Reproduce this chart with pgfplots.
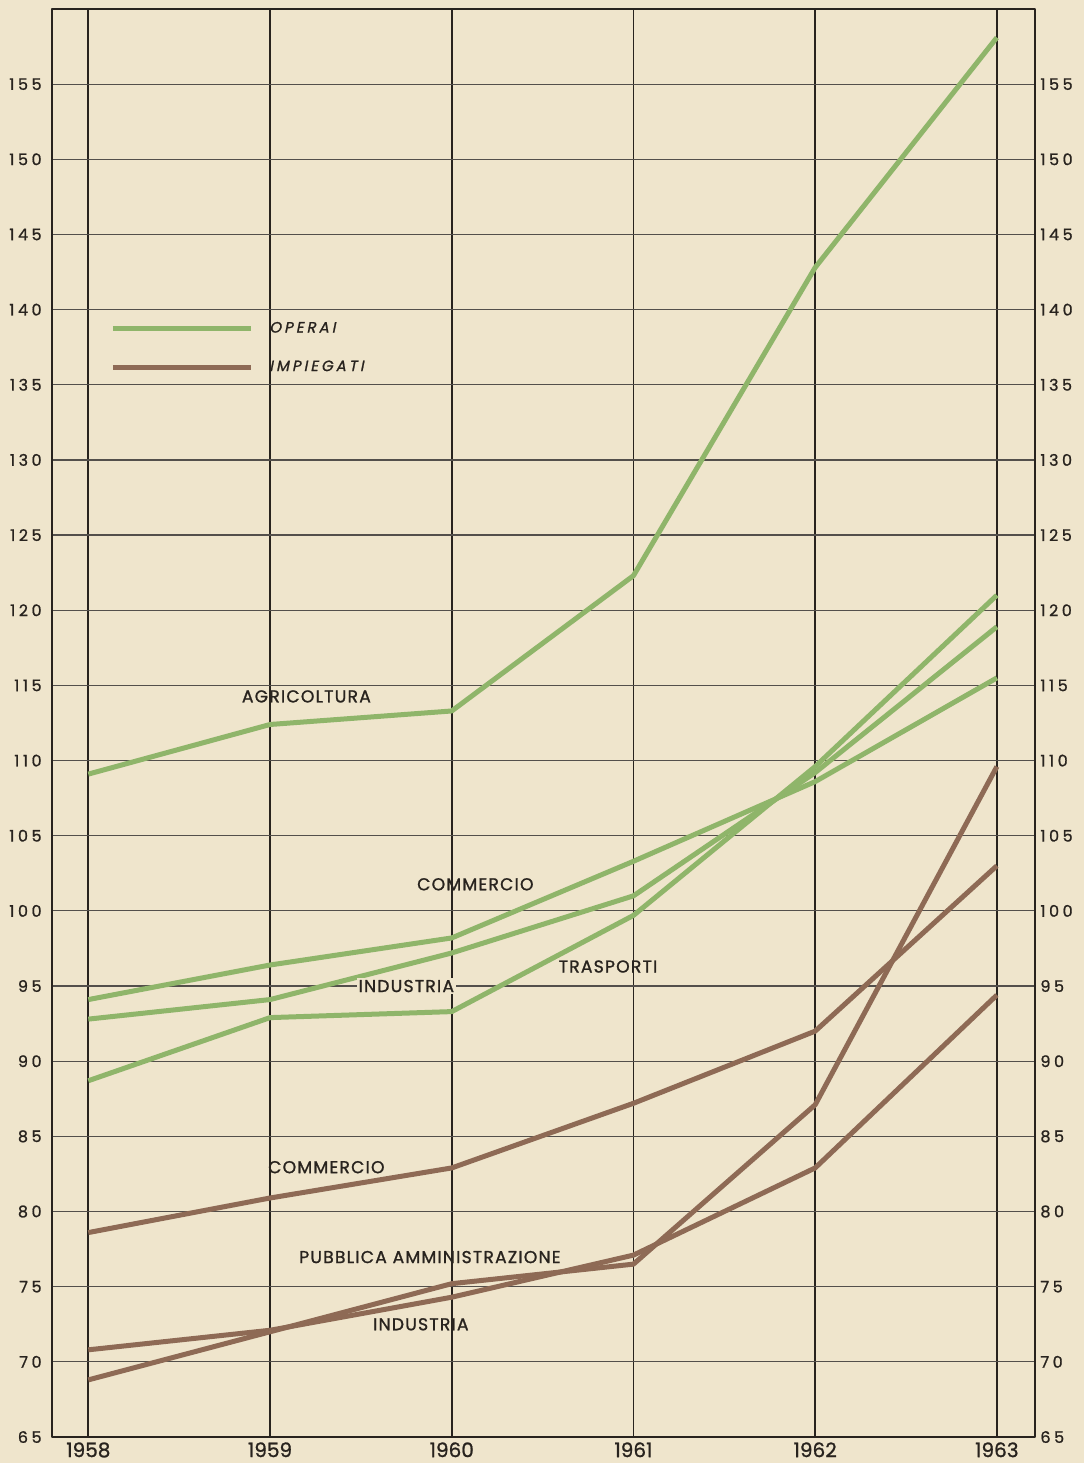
\documentclass[border=0pt]{standalone}
\usepackage{pgfplots}
\pgfplotsset{compat=1.18}
\usepackage{pgfplotstable}
\usepackage{fontspec}
\setmainfont{Poppins}[FakeBold=1]
\newfontfamily\labfont[LetterSpace=7,FakeBold=1.2]{Poppins}
\newfontfamily\tickfont[LetterSpace=22,FakeBold=1]{Poppins}
\newfontfamily\legfont[LetterSpace=20,FakeSlant=0.2,FakeBold=1.2]{Poppins}
\usetikzlibrary{backgrounds}
\definecolor{bgc}{RGB}{239,229,204}
\definecolor{verde}{RGB}{143,181,106}
\definecolor{marrone}{RGB}{142,106,85}
\definecolor{griglia}{RGB}{40,35,30}

\pgfplotstableread{
anno agr comm ind trasp
1958 109.1 94.1 92.8 88.7
1959 112.4 96.4 94.1 92.9
1960 113.3 98.2 97.2 93.3
1961 122.3 103.3 101.0 99.7
1962 142.8 108.6 109.2 109.6
1963 158.1 115.5 118.9 121.0
}\operai

\pgfplotstableread{
anno comm pa ind
1958 78.6 68.8 70.8
1959 80.9 72.0 72.1
1960 82.9 75.2 74.3
1961 87.2 76.5 77.1
1962 92.0 87.1 82.9
1963 103.0 109.6 94.4
}\impiegati

\begin{document}
\begin{tikzpicture}
\begin{axis}[
  scale only axis, width=491.5pt, height=714pt,
  xmin=1957.8, xmax=1963.21, ymin=65, ymax=160,
  xtick={1958,1959,1960,1961,1962,1963},
  ytick={65,70,...,155},
  /pgf/number format/assume math mode=true,
  /pgf/number format/1000 sep={},
  major tick length=0pt,
  grid=major,
  x grid style={line width=0.9pt, griglia},
  y grid style={line width=0.6pt, griglia!80},
  axis line style={line width=0.8pt, griglia},
  axis background/.style={fill=bgc},
  xticklabel style={font=\fontsize{10}{11}\selectfont, text=griglia, inner sep=0pt, anchor=north, yshift=-2.5pt},
  yticklabel style={font=\fontsize{8}{9}\tickfont, text=griglia, inner sep=0pt, anchor=east, xshift=-5pt},
  legend image code/.code={\draw[#1] (0pt,0pt) -- (69pt,0pt);},
  legend style={draw=none, fill=none, at={(rel axis cs:0.059,0.7825)}, anchor=north west,
    inner sep=0pt, font=\fontsize{7.5}{8}\legfont, text=griglia, row sep=10.5pt,
    nodes={inner sep=1pt}},
  legend cell align=left,
  /tikz/every odd column/.append style={column sep=7pt},
  line join=round,
]
\addlegendimage{verde, line width=2.5pt}
\addlegendentry{OPERAI}
\addlegendimage{marrone, line width=2.5pt}
\addlegendentry{IMPIEGATI}

\addplot[verde, line width=2.5pt, forget plot] table[x=anno, y=agr]{\operai};
\addplot[verde, line width=2.5pt, forget plot] table[x=anno, y=comm]{\operai};
\addplot[verde, line width=2.5pt, forget plot] table[x=anno, y=ind]{\operai};
\addplot[verde, line width=2.5pt, forget plot] table[x=anno, y=trasp]{\operai};
\addplot[marrone, line width=2.5pt, forget plot] table[x=anno, y=comm]{\impiegati};
\addplot[marrone, line width=2.5pt, forget plot] table[x=anno, y=pa]{\impiegati};
\addplot[marrone, line width=2.5pt, forget plot] table[x=anno, y=ind]{\impiegati};

\begin{scope}[every node/.style={font=\fontsize{8.6}{9}\labfont, text=griglia, inner sep=1pt}]
\node at (axis cs:1959.20,114.27) {AGRICOLTURA};
\node at (axis cs:1960.13,101.77) {COMMERCIO};
\node[fill=bgc] at (axis cs:1959.75,95.0) {INDUSTRIA};
\node at (axis cs:1960.86,96.3) {TRASPORTI};
\node at (axis cs:1959.31,82.95) {COMMERCIO};
\node at (axis cs:1959.88,76.97) {PUBBLICA AMMINISTRAZIONE};
\node at (axis cs:1959.83,72.5) {INDUSTRIA};
\end{scope}
\end{axis}

\begin{axis}[
  scale only axis, width=491.5pt, height=714pt,
  xmin=1957.8, xmax=1963.21, ymin=65, ymax=160,
  xtick=\empty,
  ytick={65,70,...,155},
  yticklabel pos=right,
  /pgf/number format/assume math mode=true,
  major tick length=0pt,
  axis line style={draw=none},
  yticklabel style={font=\fontsize{8}{9}\tickfont, text=griglia, inner sep=0pt, anchor=west, xshift=2.5pt},
]
\coordinate (SW) at (rel axis cs:0,0);
\coordinate (NE) at (rel axis cs:1,1);
\end{axis}

\begin{pgfonlayer}{background}
\fill[bgc] ([xshift=-26pt,yshift=-13pt]SW) rectangle ([xshift=24.5pt,yshift=4.5pt]NE);
\end{pgfonlayer}
\pgfresetboundingbox
\path[use as bounding box] ([xshift=-26pt,yshift=-13pt]SW) rectangle ([xshift=24.5pt,yshift=4.5pt]NE);
\end{tikzpicture}
\end{document}
